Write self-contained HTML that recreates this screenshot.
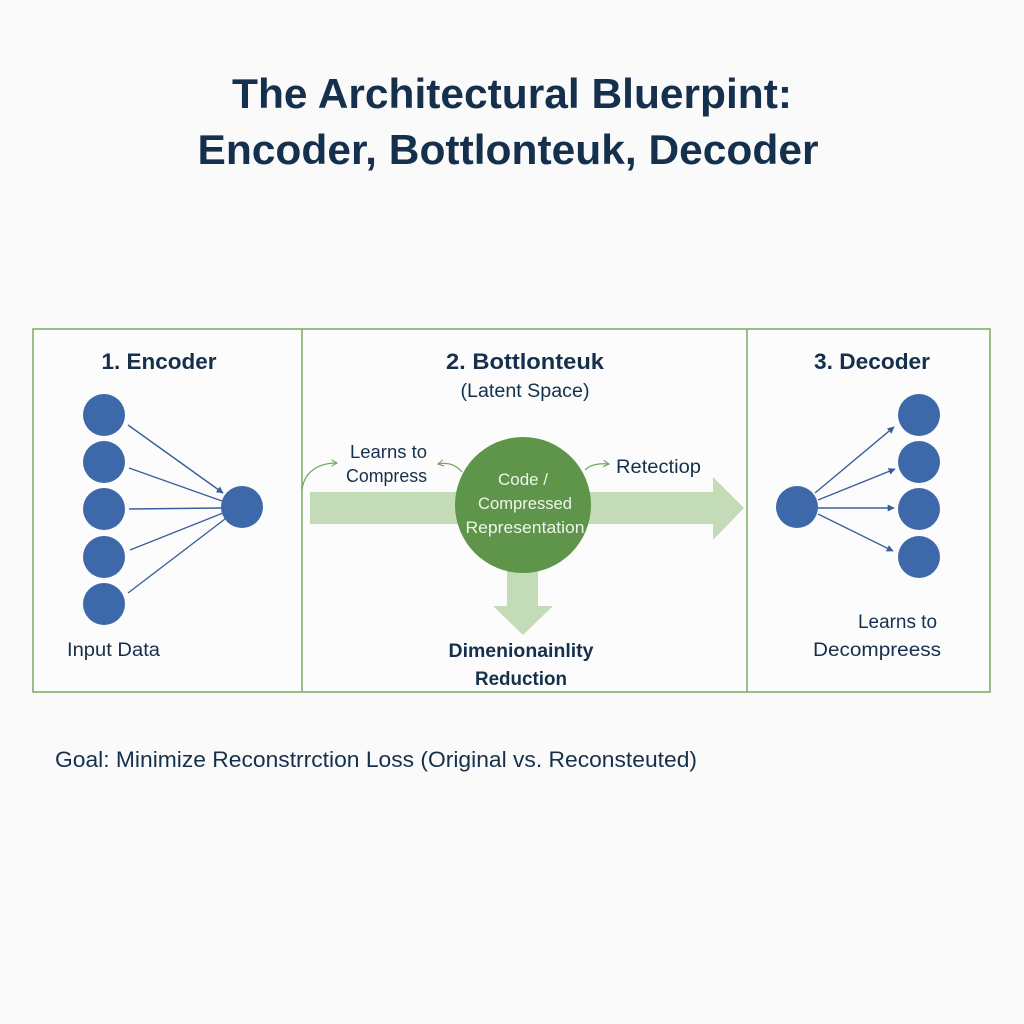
<!DOCTYPE html>
<html>
<head>
<meta charset="utf-8">
<style>
html,body{margin:0;padding:0;background:#fafafa;}
svg{display:block;}
text{font-family:"Liberation Sans",sans-serif;}
</style>
</head>
<body>
<svg width="1024" height="1024" viewBox="0 0 1024 1024" xmlns="http://www.w3.org/2000/svg">
<defs>
<marker id="ab" viewBox="0 0 10 10" refX="9" refY="5" markerWidth="7" markerHeight="7" orient="auto" markerUnits="userSpaceOnUse">
<path d="M0,0 L10,5 L0,10 z" fill="#3a5f9c"/>
</marker>
<marker id="ag" viewBox="0 0 10 10" refX="8" refY="5" markerWidth="8" markerHeight="8" orient="auto" markerUnits="userSpaceOnUse">
<path d="M1,1 L8,5 L1,9" fill="none" stroke="#6fa85c" stroke-width="1.4"/>
</marker>
</defs>
<rect width="1024" height="1024" fill="#fafafa"/>

<!-- Title -->
<text x="512" y="108" text-anchor="middle" font-size="42" font-weight="bold" fill="#15304c" textLength="560" lengthAdjust="spacingAndGlyphs">The Architectural Bluerpint:</text>
<text x="508" y="164" text-anchor="middle" font-size="42" font-weight="bold" fill="#15304c" textLength="621" lengthAdjust="spacingAndGlyphs">Encoder, Bottlonteuk, Decoder</text>

<!-- Panel -->
<rect x="33" y="329" width="957" height="363" fill="#fcfcfc" stroke="#7fb06c" stroke-width="1.6"/>
<line x1="302" y1="329" x2="302" y2="692" stroke="#7fb06c" stroke-width="1.6"/>
<line x1="747" y1="329" x2="747" y2="692" stroke="#7fb06c" stroke-width="1.6"/>

<!-- Headings -->
<text x="159" y="369" text-anchor="middle" font-size="22" font-weight="bold" fill="#15304c" textLength="115" lengthAdjust="spacingAndGlyphs">1. Encoder</text>
<text x="525" y="369" text-anchor="middle" font-size="22" font-weight="bold" fill="#15304c" textLength="158" lengthAdjust="spacingAndGlyphs">2. Bottlonteuk</text>
<text x="525" y="397" text-anchor="middle" font-size="19" fill="#15304c" textLength="129" lengthAdjust="spacingAndGlyphs">(Latent Space)</text>
<text x="872" y="369" text-anchor="middle" font-size="22" font-weight="bold" fill="#15304c" textLength="116" lengthAdjust="spacingAndGlyphs">3. Decoder</text>

<!-- Encoder -->
<g stroke="#3a5f9c" stroke-width="1.4">
<line x1="128" y1="425" x2="223" y2="493" marker-end="url(#ab)"/>
<line x1="129" y1="468" x2="222" y2="501"/>
<line x1="129" y1="509" x2="222" y2="508"/>
<line x1="130" y1="550" x2="223" y2="513"/>
<line x1="128" y1="593" x2="225" y2="519"/>
</g>
<g fill="#3d68a9">
<circle cx="104" cy="415" r="21"/>
<circle cx="104" cy="462" r="21"/>
<circle cx="104" cy="509" r="21"/>
<circle cx="104" cy="557" r="21"/>
<circle cx="104" cy="604" r="21"/>
<circle cx="242" cy="507" r="21"/>
</g>
<text x="67" y="656" font-size="19" fill="#15304c" textLength="93" lengthAdjust="spacingAndGlyphs">Input Data</text>

<!-- Bottleneck arrows -->
<rect x="310" y="492" width="410" height="32" fill="#c4dbb8"/>
<path d="M713,477 L744,508 L713,540 z" fill="#c4dbb8"/>
<rect x="507" y="560" width="31" height="48" fill="#c4dbb8"/>
<path d="M493,606 L553,606 L523,635 z" fill="#c4dbb8"/>
<circle cx="523" cy="505" r="68" fill="#5e954a"/>
<text x="523" y="485" text-anchor="middle" font-size="17" fill="#eef5ea" textLength="50" lengthAdjust="spacingAndGlyphs">Code /</text>
<text x="525" y="509" text-anchor="middle" font-size="17" fill="#eef5ea" textLength="94" lengthAdjust="spacingAndGlyphs">Compressed</text>
<text x="525" y="533" text-anchor="middle" font-size="17" fill="#eef5ea" textLength="119" lengthAdjust="spacingAndGlyphs">Representation</text>

<!-- small curved arrows -->
<g fill="none" stroke="#6fa85c" stroke-width="1.2">
<path d="M302,490 C304,472 318,463 337,463" marker-end="url(#ag)"/>
<path d="M462,472 C456,465 448,462 438,464" marker-end="url(#ag)"/>
<path d="M585,470 C590,465 598,463 609,464" marker-end="url(#ag)"/>
</g>
<text x="350" y="458" font-size="18" fill="#15304c" textLength="77" lengthAdjust="spacingAndGlyphs">Learns to</text>
<text x="346" y="482" font-size="18" fill="#15304c" textLength="81" lengthAdjust="spacingAndGlyphs">Compress</text>
<text x="616" y="473" font-size="19" fill="#15304c" textLength="85" lengthAdjust="spacingAndGlyphs">Retectiop</text>
<text x="521" y="657" text-anchor="middle" font-size="19" font-weight="bold" fill="#15304c" textLength="145" lengthAdjust="spacingAndGlyphs">Dimenionainlity</text>
<text x="521" y="685" text-anchor="middle" font-size="19" font-weight="bold" fill="#15304c" textLength="92" lengthAdjust="spacingAndGlyphs">Reduction</text>

<!-- Decoder -->
<g stroke="#3a5f9c" stroke-width="1.4">
<line x1="815" y1="493" x2="894" y2="427" marker-end="url(#ab)"/>
<line x1="818" y1="500" x2="895" y2="469" marker-end="url(#ab)"/>
<line x1="818" y1="508" x2="894" y2="508" marker-end="url(#ab)"/>
<line x1="818" y1="514" x2="893" y2="551" marker-end="url(#ab)"/>
</g>
<g fill="#3d68a9">
<circle cx="797" cy="507" r="21"/>
<circle cx="919" cy="415" r="21"/>
<circle cx="919" cy="462" r="21"/>
<circle cx="919" cy="509" r="21"/>
<circle cx="919" cy="557" r="21"/>
</g>
<text x="858" y="628" font-size="19" fill="#15304c" textLength="79" lengthAdjust="spacingAndGlyphs">Learns to</text>
<text x="813" y="656" font-size="19" fill="#15304c" textLength="128" lengthAdjust="spacingAndGlyphs">Decompreess</text>

<!-- Goal -->
<text x="55" y="767" font-size="22" fill="#15304c" textLength="642" lengthAdjust="spacingAndGlyphs">Goal: Minimize Reconstrrction Loss (Original vs. Reconsteuted)</text>
</svg>
</body>
</html>
